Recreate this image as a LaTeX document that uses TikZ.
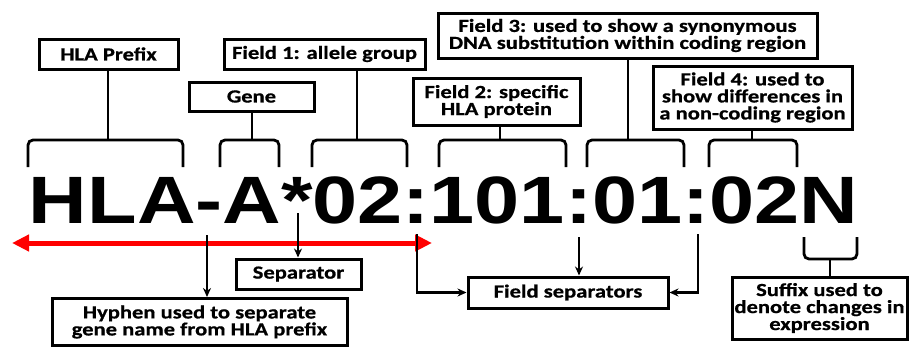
\documentclass[tikz,border=0pt]{standalone}
\usepackage{fontspec}
\usetikzlibrary{arrows.meta}
\newfontfamily\labfont{Carlito}[FakeStretch=1.22,BoldFeatures={FakeBold=0.7}]
\newfontfamily\hlafont{Liberation Sans}[FakeStretch=1.21]
\begin{document}
\begin{tikzpicture}[x=1pt,y=-1pt,
  lbox/.style={draw,line width=3pt,inner sep=0pt,align=center,
    font=\labfont\bfseries\fontsize{18.5}{17}\selectfont},
  conn/.style={line width=2.8pt},
  brk/.style={line width=2.8pt,rounded corners=5pt},
  arr/.style={line width=2.8pt,-{Stealth[length=9pt,width=8pt]}}]
\useasboundingbox (0,0) rectangle (910,348);
% top boxes
\node[lbox,minimum width=139pt,minimum height=30pt] (prefix) at (108.5,54) {HLA Prefix};
\node[lbox,minimum width=125pt,minimum height=29pt] (gene) at (251.5,96.5) {Gene};
\node[lbox,minimum width=201pt,minimum height=30pt] (f1) at (324.5,54) {Field 1: allele group};
\node[lbox,minimum width=167pt,minimum height=47pt] (f2) at (496.5,101.5) {Field 2: specific\\HLA protein};
\node[lbox,minimum width=379pt,minimum height=45pt] (f3) at (627.5,35.5) {Field 3: used to show a synonymous\\DNA substitution within coding region};
\node[lbox,minimum width=199pt,minimum height=63pt] (f4) at (752.5,97.5) {Field 4: used to\\show differences in\\a non-coding region};
% bracket tops
\coordinate (b0) at (108,140);
\coordinate (b1) at (252,140);
\coordinate (b2) at (357,140);
\coordinate (b3) at (500,140);
\coordinate (b4) at (628,140);
\coordinate (b5) at (752,140);
\draw[conn] (prefix.south -| b0) -- (b0);
\draw[conn] (gene.south -| b1) -- (b1);
\draw[conn] (f1.south -| b2) -- (b2);
\draw[conn] (f2.south -| b3) -- (b3);
\draw[conn] (f3.south -| b4) -- (b4);
\draw[conn] (f4.south -| b5) -- (b5);
\draw[brk] (28,167) -- (28,140) -- (183,140) -- (183,167);
\draw[brk] (220,167) -- (220,140) -- (279,140) -- (279,167);
\draw[brk] (312,167) -- (312,140) -- (407,140) -- (407,167);
\draw[brk] (439,167) -- (439,140) -- (566,140) -- (566,167);
\draw[brk] (587,167) -- (587,140) -- (684,140) -- (684,167);
\draw[brk] (709,167) -- (709,140) -- (797,140) -- (797,167);
% main text
\node[anchor=base,inner sep=0pt,font=\hlafont\bfseries\fontsize{67}{67}\selectfont] (hla) at (443.5,223) {HLA-A*02:101:01:02N};
% red arrow
\coordinate (rl) at (12,243);
\coordinate (rr) at (432,243);
\draw[red,line width=5pt,{Triangle[length=17pt,width=16pt]}-{Triangle[length=17pt,width=16pt]}] (rl) -- (rr);
% bottom boxes
\node[lbox,minimum width=295pt,minimum height=47pt] (hyph) at (199.5,322) {Hyphen used to separate\\gene name from HLA prefix};
\node[lbox,minimum width=125pt,minimum height=30pt] (sep) at (298.5,274) {Separator};
\node[lbox,minimum width=200pt,minimum height=31pt] (fsep) at (568,292.5) {Field separators};
\node[lbox,minimum width=175pt,minimum height=62pt] (suf) at (819.5,308) {Suffix used to\\denote changes in\\expression};
% connectors
\coordinate (hy) at (207,235);
\draw[arr] (hy) -- (hyph.north -| hy);
\coordinate (st) at (298,213);
\draw[arr] (st) -- (sep.north -| st);
\coordinate (c1) at (417,234);
\coordinate (c2) at (579,237);
\coordinate (c3) at (698,234);
\draw[arr] (c1) |- (fsep.west);
\draw[arr] (c2) -- (fsep.north -| c2);
\draw[arr] (c3) |- (fsep.east);
\coordinate (sb) at (830,259);
\draw[brk] (804,237) -- (804,259) -- (857,259) -- (857,237);
\draw[conn] (sb) -- (suf.north -| sb);
\end{tikzpicture}
\end{document}
